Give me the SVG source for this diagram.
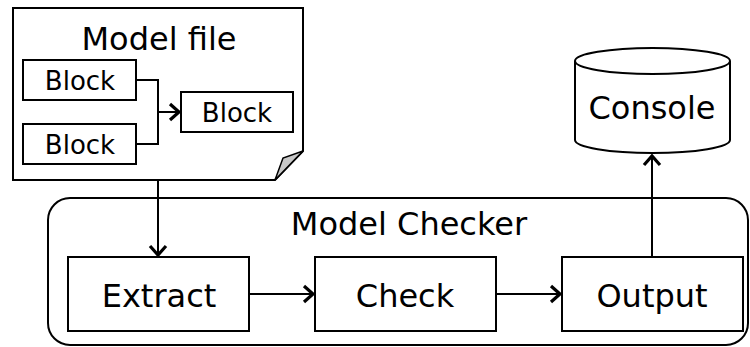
<svg xmlns="http://www.w3.org/2000/svg" width="750" height="347" viewBox="0 0 750 347">
<defs>
<style>
.box{fill:#fff;stroke:#000;stroke-width:2}
.ln{fill:none;stroke:#000;stroke-width:2}
.t{font-family:"DejaVu Sans",Verdana,sans-serif;fill:#000;text-anchor:middle}
.big{font-size:32px}
.sm{font-size:26px}
</style>
<marker id="arr" viewBox="0 0 24 24" refX="21" refY="12" markerWidth="24" markerHeight="24" markerUnits="userSpaceOnUse" orient="auto">
<path d="M11,4 L20,12 L11,20" fill="none" stroke="#000" stroke-width="3.2" stroke-linejoin="miter"/>
</marker>
</defs>
<g id="model-checker">
<rect class="box" x="48" y="198" width="700" height="147" rx="22"/>
<text class="t big" x="409" y="235">Model Checker</text>
</g>
<g id="model-file">
<path class="box" d="M13,8 H303 V151 L275,180 H13 Z"/>
<path d="M303,151 L283,158 L275,180 Z" fill="#c8c8c8" stroke="#000" stroke-width="1.5"/>
<text class="t big" x="159" y="50">Model file</text>
</g>
<g id="block1">
<rect class="box" x="23" y="60" width="113" height="40"/>
<text class="t sm" x="80" y="90">Block</text>
</g>
<g id="block2">
<rect class="box" x="23" y="124" width="113" height="40"/>
<text class="t sm" x="80" y="154">Block</text>
</g>
<g id="block3">
<rect class="box" x="181" y="92" width="112" height="40"/>
<text class="t sm" x="237" y="122">Block</text>
</g>
<g id="extract">
<rect class="box" x="68" y="257" width="181" height="74"/>
<text class="t big" x="159" y="307">Extract</text>
</g>
<g id="check">
<rect class="box" x="315" y="257" width="181" height="74"/>
<text class="t big" x="405" y="307">Check</text>
</g>
<g id="output">
<rect class="box" x="562" y="257" width="181" height="74"/>
<text class="t big" x="652" y="307">Output</text>
</g>
<g id="console">
<path class="box" d="M575,61 V140 A77.5,13 0 0 0 730,140 V61"/>
<ellipse class="box" cx="652.5" cy="61" rx="77.5" ry="13"/>
<text class="t big" x="652" y="119">Console</text>
</g>
<g id="connectors">
<path class="ln" d="M136,80 H158 V144 H136"/>
<path class="ln" d="M158,112 H180" marker-end="url(#arr)"/>
<path class="ln" d="M158,180 V256" marker-end="url(#arr)"/>
<path class="ln" d="M249,294 H314" marker-end="url(#arr)"/>
<path class="ln" d="M496,294 H561" marker-end="url(#arr)"/>
<path class="ln" d="M652,257 V155" marker-end="url(#arr)"/>
</g>
</svg>
